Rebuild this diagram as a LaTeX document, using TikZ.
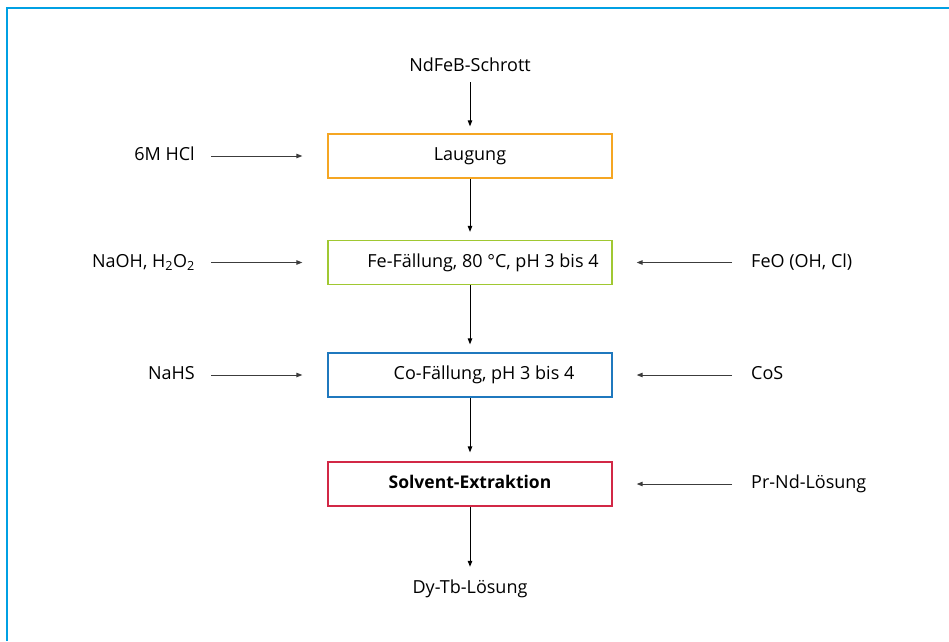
\documentclass[tikz,border=0pt]{standalone}
\usepackage{fontspec}
\setmainfont{Open Sans}
\usetikzlibrary{arrows.meta}
\definecolor{framecol}{RGB}{0,160,227}
\definecolor{leachcol}{RGB}{245,166,35}
\definecolor{fecol}{RGB}{160,200,50}
\definecolor{cocol}{RGB}{31,120,190}
\definecolor{sxcol}{RGB}{210,40,70}
\definecolor{feedcol}{RGB}{60,60,60}
\tikzset{
    stage/.style={draw, line width=1.3pt, minimum width=284pt, minimum height=44pt, inner sep=0pt,
        text height=2ex, text depth=.25ex},
    label/.style={inner sep=0pt, text height=2ex, text depth=.25ex},
    flow/.style={-{Triangle[length=6pt,width=4.5pt]}, line width=1pt, black},
    feed/.style={-{Triangle[length=6pt,width=4.5pt]}, line width=1pt, feedcol}
}
\begin{document}
\begin{tikzpicture}[x=1pt, y=-1pt, font=\fontsize{18}{21}\selectfont]
    % Canvas and frame
    \useasboundingbox (0,0) rectangle (949,641);
    \draw[framecol, line width=2pt] (7,641) -- (7,8) -- (949,8);

    % Process stages
    \node[stage, draw=leachcol] (leach) at (470,156) {Laugung};
    \node[stage, draw=fecol] (fe) at (470,262.5) {\hspace{26pt}Fe-Fällung, 80 °C, pH 3 bis 4};
    \node[stage, draw=cocol] (co) at (470,375) {\hspace{28pt}Co-Fällung, pH 3 bis 4};
    \node[stage, draw=sxcol, font=\fontsize{17.5}{20}\selectfont\bfseries] (sx) at (470,484) {Solvent-Extraktion};

    % Input and output
    \node[label] (scrap) at (470,67) {NdFeB-Schrott};
    \node[label] (dytb) at (470,589) {Dy-Tb-Lösung};

    % Reagents on the left
    \node[label, anchor=east] (hcl) at (195,156) {6M HCl};
    \node[label, anchor=east] (naoh) at (195,262.5) {NaOH, H\textsubscript{2}O\textsubscript{2}};
    \node[label, anchor=east] (nahs) at (195,375) {NaHS};

    % Products on the right
    \node[label, anchor=west] (feo) at (751,262.5) {FeO (OH, Cl)};
    \node[label, anchor=west] (cos) at (751,375) {CoS};
    \node[label, anchor=west] (prnd) at (751,484) {Pr-Nd-Lösung};

    % Main flow
    \draw[flow, shorten <=9pt, shorten >=7pt] (scrap) -- (leach);
    \draw[flow, shorten >=8pt] (leach) -- (fe);
    \draw[flow, shorten >=8pt] (fe) -- (co);
    \draw[flow, shorten >=9pt] (co) -- (sx);
    \draw[flow, shorten >=16pt] (sx) -- (dytb);

    % Side streams
    \draw[feed, shorten <=16pt, shorten >=25pt] (hcl) -- (leach);
    \draw[feed, shorten <=16pt, shorten >=25pt] (naoh) -- (fe);
    \draw[feed, shorten <=16pt, shorten >=25pt] (nahs) -- (co);
    \draw[feed, shorten <=19pt, shorten >=24pt] (feo) -- (fe);
    \draw[feed, shorten <=19pt, shorten >=24pt] (cos) -- (co);
    \draw[feed, shorten <=19pt, shorten >=24pt] (prnd) -- (sx);
\end{tikzpicture}
\end{document}
